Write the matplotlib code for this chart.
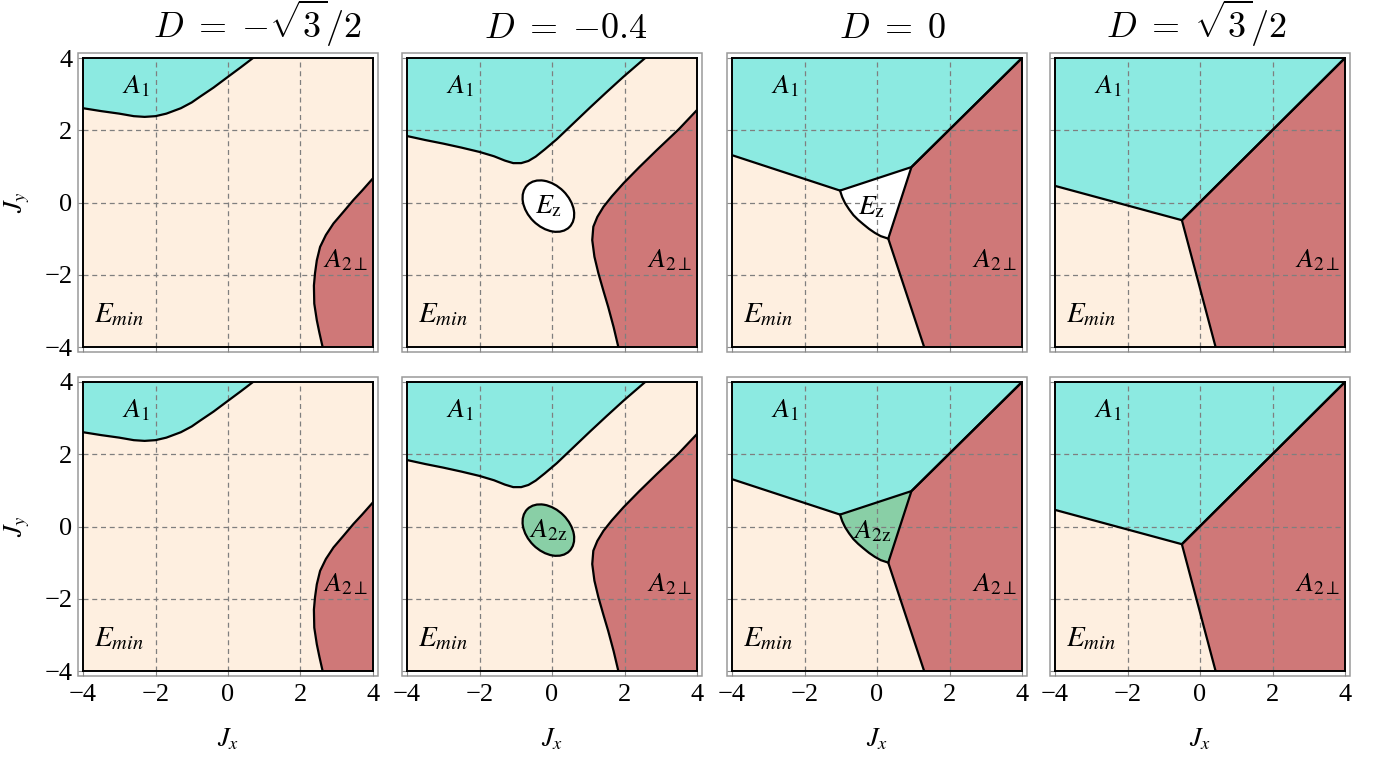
import matplotlib
matplotlib.use("Agg")
import matplotlib.pyplot as plt
from matplotlib.patches import Ellipse, Rectangle

# ---------------- data ----------------
titles = [r"$D\;=\;{-}\sqrt{3}/2$", r"$D\;=\;{-}0.4$", r"$D\;=\;0$", r"$D\;=\;\sqrt{3}/2$"]
ticks = [-4, -2, 0, 2, 4]

# D = -sqrt(3)/2
p1_a1_x = [-4.0, -3.5, -3.0, -2.6, -2.3, -2.0, -1.7, -1.3, -1.0, -0.77, -0.4, 0.0, 0.35, 0.69]
p1_a1_y = [2.61, 2.53, 2.46, 2.39, 2.37, 2.39, 2.46, 2.61, 2.77, 2.93, 3.18, 3.48, 3.74, 4.0]
p1_a2_x = [4.0, 3.7, 3.46, 3.2, 2.91, 2.70, 2.54, 2.45, 2.40, 2.37, 2.38, 2.45, 2.52, 2.61]
p1_a2_y = [0.67, 0.33, 0.07, -0.24, -0.58, -0.90, -1.23, -1.6, -1.96, -2.3, -2.8, -3.26, -3.6, -4.0]

# D = -0.4
p2_a1_x = [-4.0, -3.5, -3.0, -2.5, -2.0, -1.6, -1.3, -1.07, -0.85, -0.65, -0.45, -0.2,
           0.13, 0.59, 1.05, 1.5, 1.97, 2.57]
p2_a1_y = [1.84, 1.73, 1.63, 1.52, 1.40, 1.28, 1.16, 1.09, 1.09, 1.15, 1.27, 1.47,
           1.75, 2.19, 2.63, 3.05, 3.48, 4.0]
p2_a2_x = [4.0, 3.5, 2.89, 2.4, 1.97, 1.65, 1.42, 1.25, 1.14, 1.11, 1.17, 1.28, 1.42,
           1.55, 1.70, 1.83]
p2_a2_y = [2.56, 2.03, 1.45, 0.97, 0.53, 0.17, -0.12, -0.40, -0.67, -1.04, -1.5, -1.96,
           -2.45, -2.89, -3.45, -4.0]
p2_in_center = (-0.10, -0.10)
p2_in_width = 1.64
p2_in_height = 1.17
p2_in_angle = -45

# D = 0
p3_a1_x = [-4.0, -1.02, 0.95, 4.0]
p3_a1_y = [1.31, 0.33, 0.98, 4.0]
p3_a2_x = [4.0, 0.95, 0.31, 1.30]
p3_a2_y = [4.0, 0.98, -1.0, -4.0]
p3_arc_x = [0.31, 0.10, -0.06, -0.22, -0.38, -0.52, -0.65, -0.77, -0.88, -0.96, -1.02]
p3_arc_y = [-1.0, -0.93, -0.84, -0.73, -0.60, -0.48, -0.35, -0.19, -0.02, 0.15, 0.33]

# D = sqrt(3)/2
p4_a1_x = [-4.0, -0.50, 4.0]
p4_a1_y = [0.46, -0.49, 4.0]
p4_a2_x = [4.0, -0.50, 0.43]
p4_a2_y = [4.0, -0.49, -4.0]

row_inner_labels = [r"$E_{\rm z}$", r"$A_{2\rm z}$"]
inner_label_pos = [(-0.10, -0.10), (-0.14, -0.14)]

# ---------------- style ----------------
C_BG = "#FEEFE0"
C_A1 = "#8CEAE1"
C_A2 = "#CF7878"
C_IN = ["#FFFFFF", "#89CFA6"]
LW = 1.6

plt.rcParams["mathtext.fontset"] = "stix"
plt.rcParams["font.family"] = ["Liberation Serif", "DejaVu Serif"]

fig = plt.figure(figsize=(13.77, 7.58), dpi=100)
W, H = 1377.0, 758.0
lefts = [83, 407, 732, 1055]
tops = [58, 382]
aw, ah = 290, 289
title_x = [0.60, 0.548, 0.552, 0.486]


def setup(ax, r, c):
    ax.set_xlim(-4, 4)
    ax.set_ylim(-4, 4)
    ax.set_facecolor(C_BG)
    ax.set_xticks(ticks)
    ax.set_yticks(ticks)
    for v in [-2, 0, 2]:
        ax.axvline(v, color="#7f7f7f", lw=0.9, ls=(0, (4, 3)), zorder=3)
        ax.axhline(v, color="#7f7f7f", lw=0.9, ls=(0, (4, 3)), zorder=3)
    ax.tick_params(direction="out", length=3.6, width=0.8, color="#888888",
                   labelsize=19)
    ax.tick_params(axis="x", pad=6)
    ax.tick_params(axis="y", pad=4)
    if c != 0:
        ax.set_yticklabels([])
    if r != 1:
        ax.set_xticklabels([])
    for s in ax.spines.values():
        s.set_linewidth(1.4)
        s.set_color("black")
        s.set_zorder(6)
    ox, oy = 5.0 / aw, 5.0 / ah
    ax.add_patch(Rectangle((-ox, -oy), 1 + 2 * ox, 1 + 2 * oy, transform=ax.transAxes,
                           fill=False, edgecolor="#9a9a9a", lw=1.1, clip_on=False))
    if c == 0:
        ax.text(-0.225, 0.5, r"$J_y$", transform=ax.transAxes, rotation=90,
                ha="center", va="center", fontsize=19)
    if r == 1:
        ax.text(0.5, -0.235, r"$J_x$", transform=ax.transAxes,
                ha="center", va="center", fontsize=19)
    if r == 0:
        ax.text(title_x[c], 1.0 + 20.0 / ah, titles[c], transform=ax.transAxes,
                ha="center", va="baseline", fontsize=26, math_fontfamily="cm")


def labels(ax):
    ax.text(-2.55, 3.2, r"$A_1$", ha="center", va="center", fontsize=20, zorder=8)
    ax.text(-3.0, -3.1, r"$E_{min}$", ha="center", va="center", fontsize=21, zorder=8)
    ax.text(3.25, -1.6, r"$A_{2\perp}$", ha="center", va="center", fontsize=20, zorder=8)


for r in range(2):
    for c in range(4):
        ax = fig.add_axes([lefts[c] / W, 1 - (tops[r] + ah) / H, aw / W, ah / H])
        setup(ax, r, c)
        if c == 0:
            ax.fill(p1_a1_x + [-4.0], p1_a1_y + [4.0], color=C_A1, lw=0, zorder=1)
            ax.fill(p1_a2_x + [4.0], p1_a2_y + [-4.0], color=C_A2, lw=0, zorder=1)
            ax.plot(p1_a1_x, p1_a1_y, color="black", lw=LW, zorder=5)
            ax.plot(p1_a2_x, p1_a2_y, color="black", lw=LW, zorder=5)
        elif c == 1:
            ax.fill(p2_a1_x + [-4.0], p2_a1_y + [4.0], color=C_A1, lw=0, zorder=1)
            ax.fill(p2_a2_x + [4.0], p2_a2_y + [-4.0], color=C_A2, lw=0, zorder=1)
            ax.plot(p2_a1_x, p2_a1_y, color="black", lw=LW, zorder=5)
            ax.plot(p2_a2_x, p2_a2_y, color="black", lw=LW, zorder=5)
            ax.add_patch(Ellipse(p2_in_center, p2_in_width, p2_in_height, angle=p2_in_angle,
                                 facecolor=C_IN[r], edgecolor="black", lw=LW, zorder=5))
            ax.text(*inner_label_pos[0], row_inner_labels[r], ha="center", va="center",
                    fontsize=20, zorder=8)
        elif c == 2:
            ax.fill(p3_a1_x + [-4.0], p3_a1_y + [4.0], color=C_A1, lw=0, zorder=1)
            ax.fill(p3_a2_x + [4.0], p3_a2_y + [-4.0], color=C_A2, lw=0, zorder=1)
            ax.fill([p3_a1_x[1], p3_a1_x[2], p3_a2_x[2]] + p3_arc_x[1:],
                    [p3_a1_y[1], p3_a1_y[2], p3_a2_y[2]] + p3_arc_y[1:],
                    color=C_IN[r], lw=0, zorder=1)
            ax.plot(p3_a1_x, p3_a1_y, color="black", lw=LW, zorder=5)
            ax.plot(p3_a2_x, p3_a2_y, color="black", lw=LW, zorder=5)
            ax.plot(p3_arc_x, p3_arc_y, color="black", lw=LW, zorder=5)
            ax.text(*inner_label_pos[1], row_inner_labels[r], ha="center", va="center",
                    fontsize=20, zorder=8)
        else:
            ax.fill(p4_a1_x + [-4.0], p4_a1_y + [4.0], color=C_A1, lw=0, zorder=1)
            ax.fill(p4_a2_x + [4.0], p4_a2_y + [-4.0], color=C_A2, lw=0, zorder=1)
            ax.plot(p4_a1_x, p4_a1_y, color="black", lw=LW, zorder=5)
            ax.plot(p4_a2_x, p4_a2_y, color="black", lw=LW, zorder=5)
        labels(ax)

fig.savefig("out.png", dpi=100)
